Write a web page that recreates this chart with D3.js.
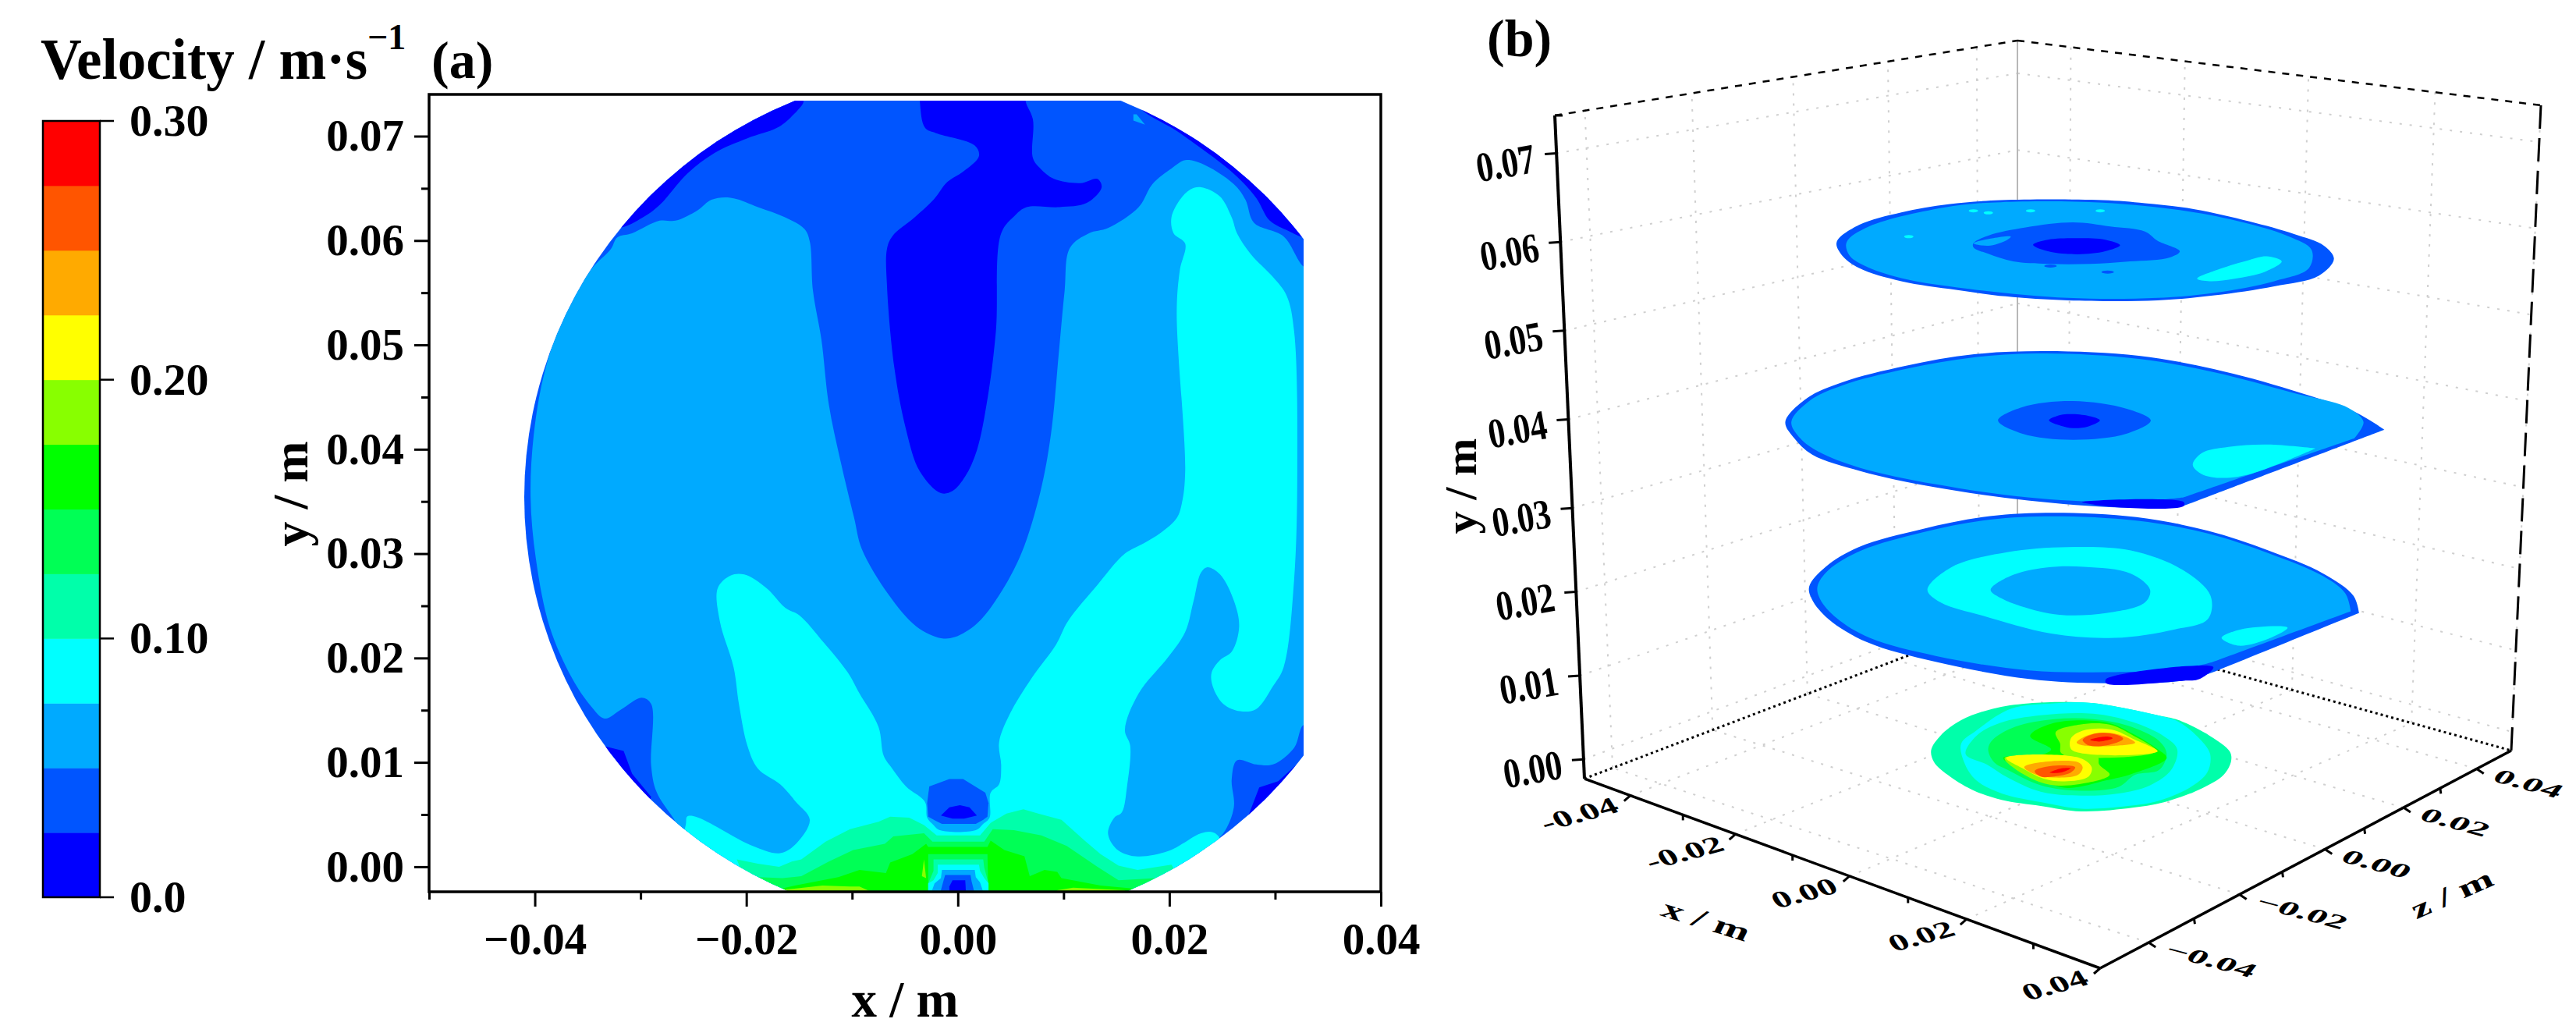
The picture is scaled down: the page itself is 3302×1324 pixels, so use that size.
<!DOCTYPE html>
<html>
<head>
<meta charset="utf-8">
<script src="https://cdn.jsdelivr.net/npm/d3@7"></script>
<style>
  body { margin: 0; background: #fff; }
  text { font-family: "Liberation Serif", serif; font-weight: bold; fill: #000; }
</style>
</head>
<body>
<div id="graph"></div>
<script>

// colour bar: one colour per 0.025 m/s band, bottom to top
var bandColors = ["#0000ff","#0055ff","#00aaff","#00ffff","#00ffaa","#00ff55","#00ff00","#88ff00","#ffff00","#ffaa00","#ff5500","#ff0000"];
var barTicks = [0, 0.10, 0.20, 0.30];
var barLabels = ["0.0", "0.10", "0.20", "0.30"];

// panel (a) ticks
var xTicksA = [-0.04, -0.02, 0, 0.02, 0.04];
var xMinorA = [-0.05, -0.03, -0.01, 0.01, 0.03];
var yTicksA = [0, 0.01, 0.02, 0.03, 0.04, 0.05, 0.06, 0.07];
var yMinorA = [0.005, 0.015, 0.025, 0.035, 0.045, 0.055, 0.065];

// panel (a) contour outlines, [x mm, y mm]
var aMain = [[-32.2,60.3],[-30.8,60.7],[-28.2,61.9],[-26.7,61.9],[-24.6,62.9],[-23.3,63.9],[-21.5,64.1],[-18.9,63.2],[-16.3,62.2],[-14.5,61.1],[-14,59.9],[-13.7,55.2],[-12.9,50.5],[-12.2,44.3],[-11.1,38.9],[-9.8,33.4],[-9.1,30.5],[-6.5,26],[-3.9,23],[-1.6,21.9],[-0.3,22],[1.8,23.3],[3.9,26],[6,30],[7.8,35.9],[8.8,41.4],[9.6,49.8],[10.1,55.2],[10.6,59.3],[12.4,60.7],[14.2,61.2],[17.1,63.2],[18.4,65.4],[20.2,66.9],[21.5,67.7],[23,67.4],[26.1,65.4],[27.2,63.9],[28,61.7],[30.8,60.4],[32.7,57.5],[34,57],[34,13.6],[32.7,13.6],[31.8,11.4],[29.8,9.8],[28.2,9.8],[26.4,10.2],[25.9,8.4],[26.1,5.7],[25.1,3.2],[23,1.2],[22,-3],[-22,-3],[-26.8,4.5],[-28.5,7.2],[-29,9.7],[-29,15.6],[-29.9,16.2],[-31.8,15.1],[-33.4,14.2],[-34.7,15.4],[-36.5,18.1],[-38.6,23],[-39.9,29.5],[-40.4,35.4],[-40.1,41.4],[-39.1,47.3],[-37.3,52.7],[-34.7,57.2],[-32.8,59.2]];
var aCyan = [[-21.5,27.9],[-20.2,28],[-18.1,26.7],[-16.3,24.8],[-15,24.1],[-12.7,21.5],[-10.4,18.6],[-9.3,16.6],[-7.5,13.4],[-7,10.6],[-6.2,9.4],[-4.9,7.7],[-3.1,6.2],[-2.9,4.7],[-2.3,4],[-1.7,3.5],[1.7,3.5],[2.4,4.1],[3,4.7],[3.1,7.1],[3.9,7.9],[4.1,9.7],[3.9,11.9],[4.9,14.6],[7,18.1],[9.3,21.3],[10.4,23.5],[13.2,27],[15.8,30],[17.6,31],[19.2,32],[20.7,33.4],[21.2,34.9],[21.5,37.9],[20.7,53.2],[21,57.2],[21.5,59.7],[20.4,60.7],[20.2,62.2],[21,63.9],[22,64.9],[23,65.1],[24.8,64.2],[25.9,62.2],[26.4,60.7],[27.7,58.7],[29.8,56.5],[31.1,54.7],[31.8,51.3],[32.1,37.9],[31.8,27.5],[30.8,19.1],[29.8,17.3],[28.2,15.1],[26.7,14.9],[25.1,15.6],[24.1,17.3],[24,18.6],[24.8,19.8],[25.9,20.6],[26.6,23],[26.1,25.5],[24.8,28],[23.6,28.7],[23,28.2],[22.3,25.5],[21.5,22.5],[19.9,20.1],[17.1,16.6],[15.8,13.1],[16.3,11.6],[16,7.7],[15.5,5.2],[14.8,4.7],[14.2,3.2],[15,1.7],[16.8,1],[19.9,1.5],[23,3.2],[24.1,3.3],[24.8,2.7],[26,-3],[-26,-3],[-25.7,4.2],[-25.6,4.8],[-24.8,4.8],[-19.4,2],[-16.8,1.3],[-15.3,2.2],[-14,4.5],[-15.3,6.2],[-16.8,7.9],[-18.9,9.4],[-19.9,11.6],[-20.7,15.6],[-21.2,19.1],[-22.5,23.5],[-22.7,26.7]];
var aPatchTopLeft = [[-16.8,73.4],[-14.6,73.4],[-15.8,71.8],[-17.1,70.8],[-19.9,69.8],[-23,68.4],[-25.6,66.4],[-28.2,63.4],[-29.8,62.2],[-32.1,61.2],[-36,62],[-20,76]];
var aPlume = [[-3.6,76],[-3.6,73.4],[-3.1,70.8],[-2.1,70.3],[1.6,69.1],[2,68.1],[0.5,66.6],[-1,65.6],[-2.3,63.9],[-4.1,62.2],[-6.2,60.4],[-6.7,59.2],[-6.7,55.7],[-6,47.8],[-4.9,41.9],[-3.6,37.9],[-1.6,35.8],[-0.5,36],[0.7,37.4],[1.8,39.9],[2.8,44.8],[3.6,51.3],[4.1,60.7],[5.4,62.4],[6.5,63.2],[9.6,63.2],[12.2,63.6],[13.6,65.1],[13.2,65.9],[11.6,65.5],[9.1,65.9],[7.8,66.9],[7.1,67.9],[7.1,71.6],[6.4,73.4],[6.4,76]];
var aPatchTopRight = [[17.1,73.1],[21,70.3],[26.1,66.4],[28.2,64.1],[29.5,61.9],[31.3,60.9],[32.7,60.3],[36,60],[20,76]];
var aSpot = [[16.6,72.1],[16.9,72.1],[17.7,71.1],[16.6,71.5]];
var aPatchLowLeft = [[-33.6,11.6],[-31.6,11.1],[-30.8,8.9],[-29,6.7],[-30,4],[-38,10]];
var aPatchLowRight = [[32.7,10.4],[30.3,8.2],[28.5,7.6],[27.4,4.7],[25.9,2.7],[30,2],[38,8]];
var aDome = [[-2.7,7.7],[-0.8,8.4],[0.5,8.4],[2.6,7.1],[2.9,6.1],[2.8,4.8],[2.4,4.5],[1.7,4.1],[-1.5,4.1],[-2.1,4.4],[-2.8,4.8],[-2.9,6.1]];
var aDomeCore = [[-1.6,4.9],[-0.8,5.7],[0.2,5.9],[1.1,5.7],[1.8,4.9],[0.6,4.6],[-0.5,4.6]];
var aGreen1 = [[-20.9,0.7],[-18.9,0.3],[-16.9,0],[-15.7,0.5],[-14.8,0.7],[-12.5,2.4],[-10.2,3.6],[-7.5,4.3],[-6.4,4.8],[-4.6,4.7],[-3.2,4],[-2,3],[2.1,3],[3.1,4.2],[4.6,5.1],[6.2,5.5],[7.6,5.1],[9.8,4.5],[12,2.5],[13.5,1.2],[15.2,0.1],[17,-0.3],[20.2,0.2],[20.5,-0.3],[22,-3],[-22,-3],[-20.5,-0.3]];
var aGreen2 = [[-18.8,-1],[-16.6,-1.1],[-14.8,-0.9],[-12.2,0.5],[-9.9,1.6],[-6.9,2.2],[-6.1,2.9],[-3.2,3.2],[-2.4,2.4],[2.5,2.4],[3.3,3.6],[5.3,3.5],[7.9,3],[10.3,2],[13.2,0],[15.2,-1.3],[18.7,-1.1],[18.7,-3],[-18.8,-3]];
var aGreen3 = [[-16.7,-2.1],[-15.4,-1.8],[-11.3,-1],[-9.3,-0.3],[-6.8,-0.6],[-6.4,0.4],[-4.3,1.2],[-3,2.2],[-2.8,1.9],[2.8,1.9],[3.1,2.5],[4.4,1.6],[6.3,1],[6.8,-0.9],[8.2,-0.3],[9.4,-0.5],[9.8,-1.1],[13.5,-1.8],[16.7,-2.1],[16.7,-3],[-16.7,-3]];
var aLimeLeft = [[-16.4,-2.2],[-12.8,-1.8],[-10.2,-1.9],[-9.3,-1.9],[-8.4,-2.3],[-8.4,-3],[-16.4,-3]];
var aLimeRight = [[9.4,-2.25],[10.9,-2],[15.8,-2.25],[15.8,-3],[9.4,-3]];
var aLimeSpike = [[-3.2,0.7],[-3,-1.1],[-3.4,-0.9]];
var aColumn1 = [[-2.8,1.2],[2.8,1.2],[2.9,-3],[-2.8,-3]];
var aColumn2 = [[-2.3,0.7],[2.4,0.7],[2.5,-0.1],[2.9,-1.6],[2.9,-3],[-2.8,-3],[-2.8,-1.6],[-2.3,-0.4]];
var aColumn3 = [[-1.9,0.2],[2,0.2],[2.1,-0.4],[2.5,-1.1],[2.9,-1.6],[2.9,-3],[-2.8,-3],[-2.8,-1.6],[-2.3,-1.3],[-1.9,-0.6]];
var aColumn4 = [[-1.5,-0.3],[1.6,-0.3],[1.7,-1],[2.1,-1.5],[2.6,-3],[-2.7,-3],[-2.2,-1.6],[-1.6,-1.1]];
var aColumn5 = [[-1.2,-0.8],[1.2,-0.8],[1.3,-1.4],[1.7,-3],[-1.8,-3],[-1.4,-1.5]];
var aColumn6 = [[-0.5,-1.3],[0.7,-1.3],[0.8,-3],[-0.8,-3],[-0.8,-1.9]];

// panel (b) ticks
var xTicksB = [-0.04, -0.02, 0, 0.02, 0.04];
var zTicksB = [-0.04, -0.02, 0, 0.02, 0.04];
var yTicksB = [0, 0.01, 0.02, 0.03, 0.04, 0.05, 0.06, 0.07];
var minorB = [-0.03, -0.01, 0.01, 0.03];

// panel (b) slices, in each slice's own -1..1 box (u right, v down)
// a repeated point gives a sharp corner on the smoothed outline
var d1Edge = [[-1,-0.16],[-0.91,-0.5],[-0.74,-0.75],[-0.55,-0.91],[-0.34,-0.99],[0.07,-0.99],[0.24,-0.93],[0.44,-0.81],[0.66,-0.57],[0.84,-0.32],[0.96,-0.09],[1,0.17],[0.94,0.5],[0.76,0.71],[0.52,0.89],[0.29,0.99],[-0.07,0.99],[-0.32,0.91],[-0.52,0.78],[-0.74,0.61],[-0.91,0.35],[-0.98,0.09]];
var d1Main = [[-0.96,-0.16],[-0.87,-0.47],[-0.55,-0.86],[-0.34,-0.95],[0.07,-0.94],[0.44,-0.75],[0.66,-0.52],[0.82,-0.27],[0.91,-0.01],[0.9,0.35],[0.76,0.61],[0.52,0.84],[0.29,0.94],[-0.07,0.94],[-0.52,0.73],[-0.74,0.55],[-0.89,0.3],[-0.95,0.09]];
var d1Mid = [[-0.45,-0.14],[-0.39,-0.29],[-0.24,-0.45],[-0.05,-0.55],[0.1,-0.47],[0.24,-0.37],[0.29,-0.19],[0.38,0.02],[0.34,0.14],[0.18,0.22],[0.02,0.27],[-0.15,0.27],[-0.29,0.22],[-0.39,0.07],[-0.45,-0.06]];
var d1Light = [[-0.45,-0.14],[-0.37,-0.24],[-0.3,-0.27],[-0.32,-0.19],[-0.39,-0.09]];
var d1Core = [[-0.21,-0.11],[-0.15,-0.21],[-0.03,-0.24],[0.08,-0.21],[0.14,-0.1],[0.08,0.02],[-0.03,0.08],[-0.15,0.02]];
var d1Cyan = [[0.45,0.56],[0.54,0.37],[0.66,0.19],[0.73,0.12],[0.79,0.22],[0.72,0.43],[0.6,0.56],[0.5,0.61]];
var d1CyanSpecks = [[-0.45,-0.78],[-0.39,-0.74],[-0.22,-0.78],[0.06,-0.78],[-0.71,-0.27]];
var d1BlueSpecks = [[0.09,0.43],[-0.14,0.31]];

var d2Edge = [[-1,-0.09],[-0.93,-0.39],[-0.81,-0.6],[-0.6,-0.81],[-0.37,-0.96],[-0.13,-1],[0.18,-0.94],[0.43,-0.77],[0.69,-0.5],[0.9,-0.22],[1,0.01],[1,0.01],[0.33,0.99],[0.33,0.99],[0.12,1.01],[-0.19,0.92],[-0.5,0.75],[-0.75,0.54],[-0.91,0.33],[-0.97,0.12]];
var d2Main = [[-0.98,-0.09],[-0.92,-0.36],[-0.81,-0.56],[-0.6,-0.77],[-0.37,-0.92],[-0.13,-0.97],[0.18,-0.9],[0.43,-0.73],[0.69,-0.47],[0.88,-0.27],[0.93,-0.09],[0.9,0.12],[0.9,0.12],[0.33,0.88],[0.33,0.88],[0.12,0.94],[-0.19,0.88],[-0.5,0.71],[-0.75,0.5],[-0.89,0.29],[-0.95,0.12]];
var d2Strip = [[-0.01,0.94],[0.33,0.94],[0.33,0.99],[0.12,1.01]];
var d2Mid = [[-0.29,-0.11],[-0.21,-0.28],[-0.04,-0.36],[0.14,-0.26],[0.22,-0.11],[0.14,0.06],[-0.04,0.14],[-0.21,0.06]];
var d2Core = [[-0.12,-0.11],[-0.08,-0.18],[-0.04,-0.19],[0.02,-0.16],[0.05,-0.11],[0.01,-0.03],[-0.04,-0.01],[-0.08,-0.04]];
var d2Cyan = [[0.36,0.46],[0.39,0.31],[0.48,0.23],[0.61,0.2],[0.77,0.25],[0.77,0.25],[0.56,0.57],[0.46,0.63],[0.39,0.58]];

var d3Edge = [[-1,-0.13],[-0.94,-0.36],[-0.82,-0.59],[-0.59,-0.8],[-0.37,-0.94],[-0.14,-0.99],[0.19,-0.94],[0.45,-0.78],[0.67,-0.55],[0.87,-0.28],[0.98,-0.02],[1,0.18],[1,0.18],[0.47,0.87],[0.47,0.87],[0.36,0.97],[0.08,1],[-0.2,0.95],[-0.54,0.75],[-0.79,0.52],[-0.93,0.25],[-0.99,0.02]];
var d3Main = [[-0.97,-0.13],[-0.93,-0.32],[-0.81,-0.55],[-0.59,-0.76],[-0.37,-0.9],[-0.14,-0.95],[0.19,-0.9],[0.45,-0.75],[0.67,-0.52],[0.87,-0.25],[0.95,-0.05],[0.97,0.16],[0.97,0.16],[0.47,0.75],[0.47,0.75],[0.36,0.83],[0.08,0.87],[-0.2,0.85],[-0.54,0.68],[-0.78,0.47],[-0.9,0.24],[-0.96,0.02]];
var d3Strip = [[0.08,0.95],[0.47,0.81],[0.42,0.95],[0.36,0.97],[0.08,1]];
var d3Ring = [[-0.57,-0.09],[-0.48,-0.36],[-0.28,-0.53],[-0.06,-0.59],[0.17,-0.55],[0.36,-0.32],[0.46,-0.02],[0.45,0.25],[0.33,0.37],[0.11,0.47],[-0.12,0.42],[-0.37,0.21],[-0.52,0.06]];
var d3Hole = [[-0.34,-0.09],[-0.27,-0.25],[-0.14,-0.35],[0,-0.36],[0.17,-0.28],[0.24,-0.09],[0.22,0.06],[0.08,0.18],[-0.09,0.2],[-0.23,0.1],[-0.3,0.01]];
var d3Cyan = [[0.5,0.47],[0.57,0.37],[0.74,0.35],[0.67,0.48],[0.56,0.56]];

var d4Edge = [[-1,-0.12],[-0.94,-0.38],[-0.8,-0.67],[-0.59,-0.88],[-0.35,-0.98],[0.05,-0.99],[0.31,-0.88],[0.51,-0.76],[0.65,-0.67],[0.86,-0.38],[0.99,-0.1],[1,0.07],[0.95,0.33],[0.81,0.57],[0.58,0.81],[0.35,0.93],[0,1],[-0.27,0.9],[-0.53,0.79],[-0.73,0.6],[-0.89,0.33],[-0.98,0.1]];
var d4Cyan = [[-0.8,-0.24],[-0.7,-0.48],[-0.47,-0.88],[-0.18,-0.98],[0.05,-0.99],[0.31,-0.88],[0.51,-0.76],[0.65,-0.64],[0.79,-0.33],[0.86,-0.05],[0.84,0.29],[0.72,0.57],[0.51,0.81],[0.31,0.9],[0,0.95],[-0.27,0.83],[-0.53,0.67],[-0.7,0.43],[-0.78,0.1]];
var d4Band = [[-0.77,-0.05],[-0.7,-0.38],[-0.54,-0.62],[-0.27,-0.76],[0.08,-0.79],[0.34,-0.64],[0.55,-0.38],[0.64,-0.14],[0.6,0.24],[0.46,0.52],[0.25,0.67],[0,0.71],[-0.27,0.64],[-0.49,0.38],[-0.63,0.14]];
var d4Green = [[-0.62,-0.14],[-0.59,-0.31],[-0.44,-0.55],[-0.18,-0.69],[0.08,-0.69],[0.31,-0.57],[0.52,-0.29],[0.57,-0.05],[0.52,0.24],[0.36,0.33],[0.25,0.55],[0,0.62],[-0.27,0.52],[-0.49,0.24],[-0.58,0.1]];
var d4Pure = [[-0.34,-0.38],[-0.18,-0.62],[0.17,-0.63],[0.34,-0.43],[0.51,-0.14],[0.57,0.02],[0.34,0.31],[0.17,0.43],[-0.09,0.57],[-0.27,0.43],[-0.44,0.19],[-0.52,0.02],[-0.25,-0.05],[-0.2,-0.14]];
var d4LimeUp = [[-0.17,-0.45],[-0.01,-0.59],[0.19,-0.59],[0.34,-0.4],[0.5,-0.1],[-0.13,-0.06],[-0.14,-0.24]];
var d4LimeLow = [[-0.51,0.02],[-0.13,0],[-0.11,-0.05],[0.11,0],[0.12,0.14],[0.19,0.33],[-0.01,0.5],[-0.21,0.51],[-0.39,0.31]];
var d4YellowUp = [[-0.07,-0.33],[0.01,-0.48],[0.2,-0.5],[0.36,-0.31],[0.51,-0.1],[-0.06,-0.12]];
var d4YellowLow = [[-0.5,0.02],[-0.01,0.02],[0.07,0.19],[0.05,0.36],[-0.11,0.45],[-0.25,0.4],[-0.39,0.21]];
var d4OrangeUp = [[-0.03,-0.26],[0.05,-0.4],[0.22,-0.43],[0.36,-0.26],[0.22,-0.2],[0.01,-0.21]];
var d4OrangeLow = [[-0.38,0.19],[-0.27,0.1],[-0.02,0.1],[0.01,0.19],[-0.02,0.33],[-0.18,0.38],[-0.3,0.33]];
var d4DeepUp = [[0.01,-0.31],[0.1,-0.43],[0.24,-0.4],[0.28,-0.33],[0.17,-0.21],[0.05,-0.21]];
var d4DeepLow = [[-0.31,0.26],[-0.21,0.17],[-0.04,0.19],[-0.07,0.29],[-0.18,0.36],[-0.27,0.36]];
var d4RedUp = [[0.06,-0.31],[0.17,-0.37],[0.21,-0.34],[0.12,-0.28]];
var d4RedLow = [[-0.21,0.29],[-0.13,0.21],[-0.07,0.21],[-0.14,0.29]];

var svg = d3.select("#graph")
  .append("svg")
    .attr("width", 3302)
    .attr("height", 1324);

svg.append("rect").attr("width", 3302).attr("height", 1324).attr("fill", "#fff");

//----------------------------------------- colour bar
var barY = d3.scaleLinear().domain([0, 0.30]).range([1150, 155]);
var bar = svg.append("g");

bar.selectAll("rect.band").data(bandColors).enter().append("rect")
  .attr("class", "band")
  .attr("x", 55)
  .attr("width", 73)
  .attr("y", function(d, i) { return barY((i + 1) * 0.025); })
  .attr("height", function(d, i) { return barY(i * 0.025) - barY((i + 1) * 0.025) + 0.5; })
  .attr("fill", function(d) { return d; });

bar.append("rect").attr("x", 55).attr("y", barY(0.30)).attr("width", 73).attr("height", barY(0) - barY(0.30))
  .attr("fill", "none").attr("stroke", "#000").attr("stroke-width", 2.5);

bar.selectAll("line").data(barTicks).enter().append("line")
  .attr("x1", 128).attr("x2", 146)
  .attr("y1", function(d) { return barY(d); }).attr("y2", function(d) { return barY(d); })
  .attr("stroke", "#000").attr("stroke-width", 2.5);

bar.selectAll("text").data(barTicks).enter().append("text")
  .attr("x", 166)
  .attr("y", function(d) { return barY(d) + 19; })
  .attr("font-size", 58)
  .text(function(d, i) { return barLabels[i]; });

var title = svg.append("text").attr("x", 52).attr("y", 101).attr("font-size", 73);
title.append("tspan").text("Velocity / m\u00b7s");
title.append("tspan").attr("font-size", 46).attr("dy", -38).text("\u22121");

svg.append("text").attr("x", 553).attr("y", 100).attr("font-size", 68).text("(a)");

//----------------------------------------- panel (a)
var xA = d3.scaleLinear().domain([-0.05, 0.04]).range([550, 1770]);
var yA = d3.scaleLinear().domain([-0.0024, 0.074]).range([1143, 121]);

var defs = svg.append("defs");
defs.append("clipPath").attr("id", "frameClip").append("rect")
  .attr("x", xA(-0.05)).attr("y", yA(0.0734))
  .attr("width", xA(0.0327) - xA(-0.05))
  .attr("height", yA(-0.0023) - yA(0.0734));
defs.append("clipPath").attr("id", "discClip").append("ellipse")
  .attr("cx", xA(0)).attr("cy", yA(0.0354))
  .attr("rx", xA(0.041) - xA(0))
  .attr("ry", yA(0.0354 - 0.041) - yA(0.0354));

var contourLine = d3.line()
  .x(function(d) { return xA(d[0] / 1000); })
  .y(function(d) { return yA(d[1] / 1000); });
var contourSharp = contourLine.curve(d3.curveLinearClosed).copy ? null : null;

function contourPath(points, smooth) {
  return contourLine.curve(smooth ? d3.curveCatmullRomClosed.alpha(0.5) : d3.curveLinearClosed)(points);
}

// [outline, colour, smoothed?]
var layersA = [
  [aPatchTopLeft, "#0000ff", true], [aPlume, "#0000ff", true], [aPatchTopRight, "#0000ff", true],
  [aPatchLowLeft, "#0000ff", false], [aPatchLowRight, "#0000ff", false],
  [aMain, "#00aaff", true], [aSpot, "#00aaff", false], [aCyan, "#00ffff", true],
  [aDome, "#0055ff", false], [aDomeCore, "#0000ff", false],
  [aGreen1, "#00ffaa", false], [aGreen2, "#00ff55", false], [aGreen3, "#00ff00", false],
  [aLimeLeft, "#88ff00", false], [aLimeRight, "#88ff00", false], [aLimeSpike, "#88ff00", false],
  [aColumn1, "#00ff55", false], [aColumn2, "#00ffaa", false], [aColumn3, "#00ffff", false],
  [aColumn4, "#00aaff", false], [aColumn5, "#0055ff", false], [aColumn6, "#0000ff", false]
];

var field = svg.append("g").attr("clip-path", "url(#frameClip)")
  .append("g").attr("clip-path", "url(#discClip)");

field.append("rect").attr("x", 600).attr("y", 100).attr("width", 1200).attr("height", 1100).attr("fill", "#0055ff");

field.selectAll("path").data(layersA).enter().append("path")
  .attr("d", function(d) { return contourPath(d[0], d[2]); })
  .attr("fill", function(d) { return d[1]; });

// frame
svg.append("rect").attr("x", xA(-0.05)).attr("y", yA(0.074))
  .attr("width", xA(0.04) - xA(-0.05)).attr("height", yA(-0.0024) - yA(0.074))
  .attr("fill", "none").attr("stroke", "#000").attr("stroke-width", 3.5);

function styleAxis(g) {
  g.select(".domain").remove();
  g.selectAll("line").attr("stroke", "#000").attr("stroke-width", 3);
  g.selectAll("text").attr("font-size", 57);
}

svg.append("g").attr("transform", "translate(0," + yA(-0.0024) + ")")
  .call(d3.axisBottom(xA).tickValues(xTicksA).tickSize(19).tickPadding(21).tickFormat(d3.format(".2f")))
  .call(styleAxis);
svg.append("g").attr("transform", "translate(0," + yA(-0.0024) + ")")
  .call(d3.axisBottom(xA).tickValues(xMinorA).tickSize(10).tickFormat(""))
  .call(styleAxis);
svg.append("g").attr("transform", "translate(" + xA(-0.05) + ",0)")
  .call(d3.axisLeft(yA).tickValues(yTicksA).tickSize(19).tickPadding(13).tickFormat(d3.format(".2f")))
  .call(styleAxis);
svg.append("g").attr("transform", "translate(" + xA(-0.05) + ",0)")
  .call(d3.axisLeft(yA).tickValues(yMinorA).tickSize(10).tickFormat(""))
  .call(styleAxis);

svg.append("text").attr("x", 1160).attr("y", 1303).attr("text-anchor", "middle").attr("font-size", 65).text("x / m");
svg.append("text").attr("transform", "translate(394,633) rotate(-90)").attr("text-anchor", "middle").attr("font-size", 64).text("y / m");

//----------------------------------------- panel (b)
// box corners: lower and upper, left / front / right / back
var cA = [2031, 998], cB = [2692, 1241], cC = [3219, 962], cD = [2586, 787];
var uA = [1993, 148], uC = [3257, 135], uD = [2586, 52];

function lerp(p, q, t) { return [p[0] + (q[0] - p[0]) * t, p[1] + (q[1] - p[1]) * t]; }

// the axes are foreshortened, so each edge gets its own scale
var xFront = d3.scaleLinear().domain([-0.05, -0.04, -0.02, 0, 0.02, 0.04]).range([0, 0.089, 0.293, 0.514, 0.741, 1]);
var xBack = d3.scaleLinear().domain([-0.05, -0.04, -0.02, 0, 0.02, 0.04]).range([0, 0.102, 0.32, 0.556, 0.798, 1]);
var zFront = d3.scaleLinear().domain([-0.05, -0.04, -0.02, 0, 0.02, 0.04, 0.048]).range([0, 0.118, 0.339, 0.547, 0.738, 0.916, 1]);
var zBack = d3.scaleLinear().domain([-0.05, -0.04, -0.02, 0, 0.02, 0.04, 0.048]).range([0, 0.065, 0.296, 0.515, 0.72, 0.912, 1]);
var yB = d3.scaleLinear().domain([-0.0024, 0, 0.03, 0.07, 0.074]).range([0, 0.029, 0.408, 0.943, 1]);

var gridB = [];
xTicksB.forEach(function(x) {
  gridB.push([lerp(cA, cB, xFront(x)), lerp(cD, cC, xBack(x))]);      // floor
  gridB.push([lerp(cD, cC, xBack(x)), lerp(uD, uC, xBack(x))]);       // right wall
});
zTicksB.forEach(function(z) {
  gridB.push([lerp(cB, cC, zFront(z)), lerp(cA, cD, zBack(z))]);      // floor
  gridB.push([lerp(cA, cD, zBack(z)), lerp(uA, uD, zBack(z))]);       // left wall
});
yTicksB.forEach(function(y) {
  gridB.push([lerp(cA, uA, yB(y)), lerp(cD, uD, yB(y))]);
  gridB.push([lerp(cD, uD, yB(y)), lerp(cC, uC, yB(y))]);
});

var box = svg.append("g").attr("fill", "none");
function seg(p, q, width, dash, color) {
  box.append("line")
    .attr("x1", p[0]).attr("y1", p[1]).attr("x2", q[0]).attr("y2", q[1])
    .attr("stroke", color || "#000").attr("stroke-width", width)
    .attr("stroke-dasharray", dash || null);
}

gridB.forEach(function(l) { seg(l[0], l[1], 2, "3 10", "#cfcfcf"); });
seg(uD, cD, 2, null, "#b8b8b8");
seg(cA, cD, 3, "3 4");
seg(cD, cC, 3, "3 4");
seg(uA, uD, 2.5, "9 9");
seg(uD, uC, 2.5, "9 9");
seg(uC, cC, 3, "30 12");
seg(uA, cA, 4);
seg(cA, cB, 3.5);
seg(cB, cC, 3.5);
seg(uA, [uA[0] + 10, uA[1]], 3);

// slices, placed by their box on the page
var slices = [
  { cu: 2673, hu: 318.7, cv: 320.8, hv: 64.9, layers: [[d1Edge,"#0055ff"],[d1Main,"#00aaff"],[d1Mid,"#0055ff"],[d1Light,"#00aaff"],[d1Core,"#0000ff"],[d1Cyan,"#00ffff"]], specks: true },
  { cu: 2672.5, hu: 384, cv: 549.8, hv: 99.7, layers: [[d2Edge,"#0055ff"],[d2Main,"#00aaff"],[d2Strip,"#0000ff"],[d2Mid,"#0055ff"],[d2Core,"#0000ff"],[d2Cyan,"#00ffff"]] },
  { cu: 2671.5, hu: 352.4, cv: 766, hv: 109.8, layers: [[d3Edge,"#0055ff"],[d3Main,"#00aaff"],[d3Strip,"#0000ff"],[d3Ring,"#00ffff"],[d3Hole,"#00aaff"],[d3Cyan,"#00ffff"]] },
  { cu: 2667.7, hu: 192.3, cv: 970, hv: 70, layers: [[d4Edge,"#00ffaa"],[d4Cyan,"#00ffff"],[d4Band,"#00ffaa"],[d4Green,"#00ff55"],[d4Pure,"#00ff00"],[d4LimeUp,"#88ff00"],[d4LimeLow,"#88ff00"],[d4YellowUp,"#ffff00"],[d4YellowLow,"#ffff00"],[d4OrangeUp,"#ffaa00"],[d4OrangeLow,"#ffaa00"],[d4DeepUp,"#ff5500"],[d4DeepLow,"#ff5500"],[d4RedUp,"#ff0000"],[d4RedLow,"#ff0000"]] }
];

slices.forEach(function(s) {
  var u = d3.scaleLinear().domain([-1, 1]).range([s.cu - s.hu, s.cu + s.hu]);
  var v = d3.scaleLinear().domain([-1, 1]).range([s.cv - s.hv, s.cv + s.hv]);
  var outline = d3.line().x(function(d) { return u(d[0]); }).y(function(d) { return v(d[1]); })
    .curve(d3.curveCatmullRomClosed.alpha(0.5));
  var g = svg.append("g");
  g.selectAll("path").data(s.layers).enter().append("path")
    .attr("d", function(d) { return outline(d[0]); })
    .attr("fill", function(d) { return d[1]; });
  if (s.specks) {
    g.selectAll(".cy").data(d1CyanSpecks).enter().append("ellipse").attr("class", "cy")
      .attr("cx", function(d) { return u(d[0]); }).attr("cy", function(d) { return v(d[1]); })
      .attr("rx", 6).attr("ry", 2).attr("fill", "#00ffff");
    g.selectAll(".bl").data(d1BlueSpecks).enter().append("ellipse").attr("class", "bl")
      .attr("cx", function(d) { return u(d[0]); }).attr("cy", function(d) { return v(d[1]); })
      .attr("rx", 8).attr("ry", 2).attr("fill", "#0055ff");
  }
});

// ticks on the three drawn axes
function tick(p, dx, dy) { seg(p, [p[0] + dx, p[1] + dy], 3); }
yTicksB.forEach(function(y) { tick(lerp(cA, uA, yB(y)), -15, 1); });
xTicksB.forEach(function(x) { tick(lerp(cA, cB, xFront(x)), -8, 7); });
zTicksB.forEach(function(z) { tick(lerp(cB, cC, zFront(z)), 9, 6); });
minorB.forEach(function(x) { tick(lerp(cA, cB, xFront(x)), 0, 7); tick(lerp(cB, cC, zFront(x)), 1, 7); });

var labels = svg.append("g").attr("font-size", 50);
var fmt = d3.format(".2f");

yTicksB.forEach(function(y) {
  var p = lerp(cA, uA, yB(y));
  labels.append("text").attr("text-anchor", "end").attr("font-size", 54)
    .attr("transform", "translate(" + (p[0] - 25) + "," + (p[1] + 24) + ") rotate(-10) scale(0.8,1)")
    .text(fmt(y));
});
// the x labels carry a short hyphen in the figure
xTicksB.forEach(function(x) {
  var p = lerp(cA, cB, xFront(x));
  labels.append("text").attr("text-anchor", "end")
    .attr("transform", "matrix(0.92,-0.25,0.35,0.55," + (p[0] - 12) + "," + (p[1] + 20) + ")")
    .text(fmt(x).replace("\u2212", "-"));
});
zTicksB.forEach(function(z) {
  var p = lerp(cB, cC, zFront(z));
  labels.append("text")
    .attr("transform", "matrix(0.97,0.26,-0.35,0.45," + (p[0] + 18) + "," + (p[1] + 15) + ")")
    .text(fmt(z));
});

svg.append("text").attr("transform", "translate(1892,623) rotate(-90)").attr("text-anchor", "middle").attr("font-size", 58).text("y / m");
svg.append("text").attr("transform", "matrix(1,0.31,-0.3,0.6,2182,1190)").attr("text-anchor", "middle").attr("font-size", 52).text("x / m");
svg.append("text").attr("transform", "matrix(0.95,-0.42,0.3,0.6,3148,1156)").attr("text-anchor", "middle").attr("font-size", 52).text("z / m");
svg.append("text").attr("x", 1906).attr("y", 72).attr("font-size", 68).text("(b)");

</script>
</body>
</html>
